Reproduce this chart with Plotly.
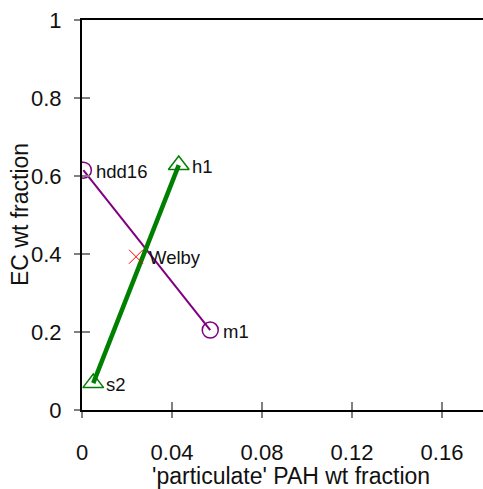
import plotly.graph_objects as go

# Data
purple_names = ["hdd16", "m1"]
purple_x = [0.0006, 0.057]
purple_y = [0.615, 0.205]

green_names = ["h1", "s2"]
green_x = [0.0430, 0.0050]
green_y = [0.628, 0.069]

welby_name = ["Welby"]
welby_x = [0.0240]
welby_y = [0.393]

x_ticks = [0, 0.04, 0.08, 0.12, 0.16]
x_ticktext = ["0", "0.04", "0.08", "0.12", "0.16"]
y_ticks = [0, 0.2, 0.4, 0.6, 0.8, 1.0]
y_ticktext = ["0", "0.2", "0.4", "0.6", "0.8", "1"]

XR = [0, 401 / 2250]
YR = [0, 1]

FONT = "Liberation Sans, Arial, sans-serif"
LFONT = "Liberation Sans, Arial, sans-serif"
PURPLE = "#800080"
GREEN = "#008000"
RED = "#ff0000"
TICKC = "#808080"

fig = go.Figure()

fig.add_trace(go.Scatter(x=purple_x, y=purple_y, mode="lines+markers",
                         line=dict(color=PURPLE, width=2),
                         marker=dict(symbol="circle-open", size=16,
                                     color=PURPLE, line=dict(width=1.5)),
                         showlegend=False, hoverinfo="skip"))
fig.add_trace(go.Scatter(x=green_x, y=green_y, mode="lines+markers",
                         line=dict(color=GREEN, width=4.5),
                         marker=dict(symbol="triangle-up-open", size=18,
                                     color=GREEN, line=dict(width=1.5)),
                         showlegend=False, hoverinfo="skip"))
fig.add_trace(go.Scatter(x=welby_x, y=welby_y, mode="markers",
                         marker=dict(symbol="x-thin-open", size=14,
                                     color=RED, line=dict(width=1, color=RED)),
                         showlegend=False, hoverinfo="skip"))
# invisible trace for overlay axes (inner tick halves)
fig.add_trace(go.Scatter(x=[None], y=[None], xaxis="x2", yaxis="y2",
                         showlegend=False, hoverinfo="skip"))

for names, xs, ys in [(purple_names, purple_x, purple_y),
                      (green_names, green_x, green_y),
                      (welby_name, welby_x, welby_y)]:
    for n, xv, yv in zip(names, xs, ys):
        fig.add_annotation(x=xv, y=yv, text=n, showarrow=False,
                           xanchor="left", yanchor="middle", xshift=11, yshift=-1,
                           font=dict(family=LFONT, size=18.5, color="#111111"))

fig.add_annotation(x=(291 - 82) / 401, y=(410 - 476) / 390, xref="paper", yref="paper",
                   text="'particulate' PAH wt fraction", showarrow=False,
                   xanchor="center", yanchor="middle",
                   font=dict(family=FONT, size=23, color="#111111"))
fig.add_annotation(x=(20 - 82) / 401, y=(410 - 215) / 390, xref="paper", yref="paper",
                   text="EC wt fraction", showarrow=False, textangle=-90,
                   xanchor="center", yanchor="middle",
                   font=dict(family=FONT, size=23, color="#111111"))

fig.update_layout(
    width=483, height=489,
    margin=dict(l=82, r=0, t=20, b=79),
    paper_bgcolor="white", plot_bgcolor="white",
    xaxis=dict(range=XR, tickvals=x_ticks, ticktext=x_ticktext,
               showgrid=False, zeroline=False,
               showline=True, linecolor="black", linewidth=2, mirror=True,
               ticks="outside", ticklen=6, tickwidth=2, tickcolor=TICKC,
               ticklabelstandoff=16,
               tickfont=dict(family=FONT, size=22, color="#111111")),
    yaxis=dict(range=YR, tickvals=y_ticks, ticktext=y_ticktext,
               showgrid=False, zeroline=False,
               showline=True, linecolor="black", linewidth=2,
               ticks="outside", ticklen=6, tickwidth=2, tickcolor=TICKC,
               ticklabelstandoff=8,
               tickfont=dict(family=FONT, size=22, color="#111111")),
    xaxis2=dict(range=XR, overlaying="x", anchor="y2", side="bottom",
                tickvals=x_ticks, showticklabels=False, showgrid=False,
                zeroline=False, showline=False,
                ticks="inside", ticklen=8, tickwidth=2, tickcolor=TICKC),
    yaxis2=dict(range=YR, overlaying="y", anchor="x2", side="left",
                tickvals=y_ticks, showticklabels=False, showgrid=False,
                zeroline=False, showline=False,
                ticks="inside", ticklen=8, tickwidth=2, tickcolor=TICKC),
)

fig.write_html("out.html")
